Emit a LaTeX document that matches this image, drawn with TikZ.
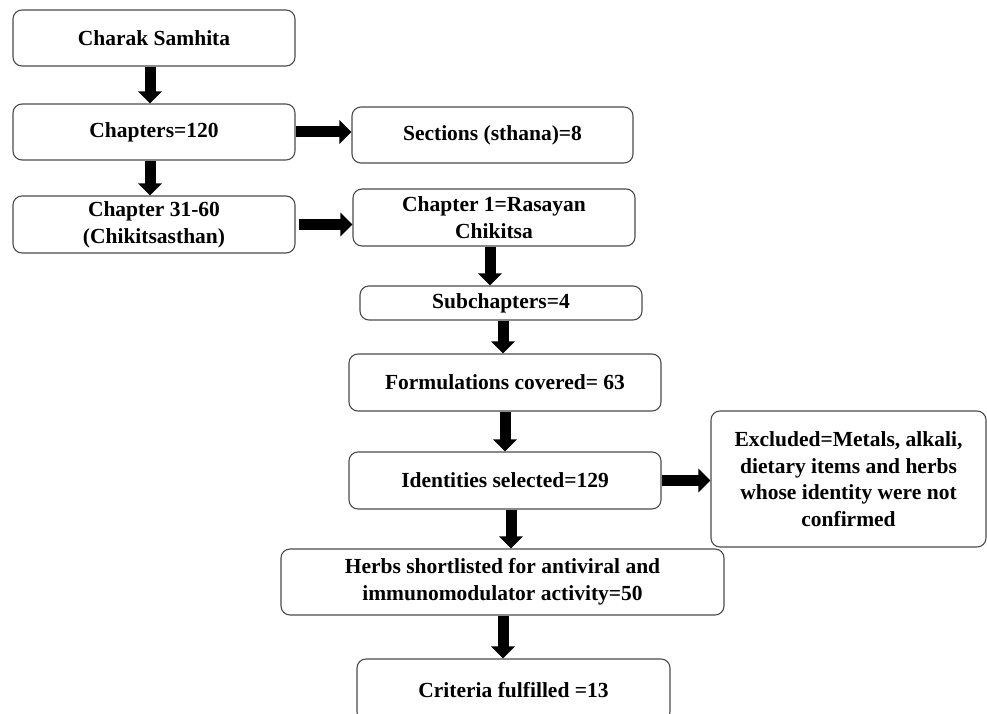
\documentclass[tikz,border=0pt]{standalone}
\usepackage{fontspec}
\setmainfont{Liberation Serif}
\usetikzlibrary{arrows.meta}
\begin{document}
\begin{tikzpicture}[x=1pt,y=-1pt,
  box/.style={draw=black!70, line width=1.1pt, rounded corners=9pt, inner sep=0pt,
    align=center, font=\bfseries\fontsize{21.5}{26.7}\selectfont},
  arr/.style={line width=11pt, -{Triangle[width=23pt,length=12pt]}}]
\useasboundingbox (0,0) rectangle (987,714);
\node[box, minimum width=282pt, minimum height=56pt] (charak) at (154,38) {Charak Samhita};
\node[box, minimum width=282pt, minimum height=56pt] (chap) at (154,132) {Chapters=120};
\node[box, minimum width=281pt, minimum height=56pt] (sect) at (492.5,135) {Sections (sthana)=8};
\node[box, minimum width=282pt, minimum height=57pt] (ch31) at (154,224.5) {Chapter 31-60\\(Chikitsasthan)};
\node[box, minimum width=282pt, minimum height=57pt] (ch1) at (494,217.5) {Chapter 1=Rasayan\\Chikitsa};
\node[box, minimum width=282pt, minimum height=34pt] (sub) at (501,303) {Subchapters=4};
\node[box, minimum width=312pt, minimum height=57pt] (form) at (505,382.5) {Formulations covered= 63};
\node[box, minimum width=312pt, minimum height=57pt] (iden) at (505,480.5) {Identities selected=129};
\node[box, minimum width=275pt, minimum height=136pt] (excl) at (848.5,479)
  {Excluded=Metals, alkali,\\dietary items and herbs\\whose identity were not\\confirmed};
\node[box, minimum width=443pt, minimum height=66pt] (herbs) at (502.5,582)
  {Herbs shortlisted for antiviral and\\immunomodulator activity=50};
\node[box, minimum width=313pt, minimum height=62pt] (crit) at (513.5,690) {Criteria fulfilled =13};
\draw[arr] (charak.south -| 150,0) -- (chap.north -| 150,0);
\draw[arr] (chap.south -| 150,0) -- (ch31.north -| 150,0);
\draw[arr] (chap.east) -- (sect.west |- chap.east);
\draw[arr] ([xshift=3pt]ch31.east) -- (ch1.west |- ch31.east);
\draw[arr] (ch1.south -| 490,0) -- (sub.north -| 490,0);
\draw[arr] (sub.south -| 503,0) -- (form.north -| 503,0);
\draw[arr] (form.south -| 505,0) -- (iden.north -| 505,0);
\draw[arr] (iden.east) -- (excl.west |- iden.east);
\draw[arr] (iden.south -| 511,0) -- (herbs.north -| 511,0);
\draw[arr] (herbs.south -| 503,0) -- (crit.north -| 503,0);
\end{tikzpicture}
\end{document}
